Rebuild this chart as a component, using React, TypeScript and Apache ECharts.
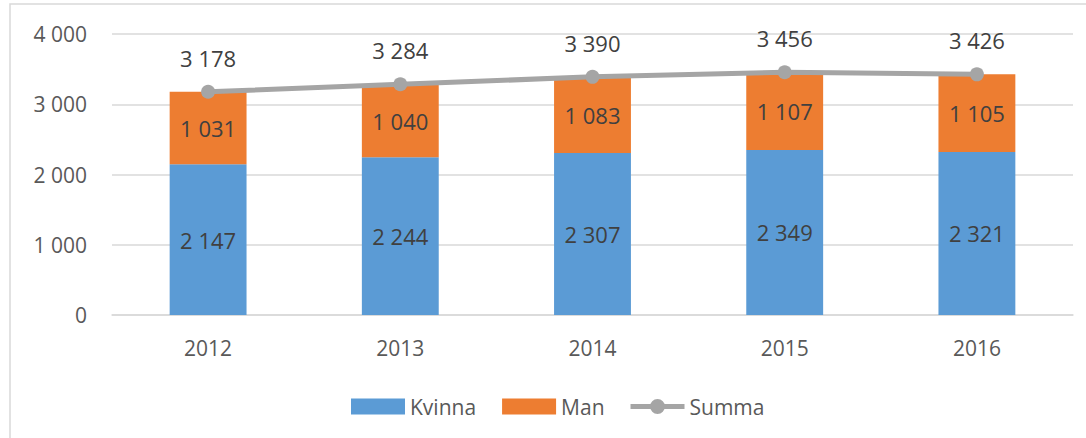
import React, { useEffect, useRef } from "react";
import * as echarts from "echarts";

const years = ["2012", "2013", "2014", "2015", "2016"];
const kvinna = [2147, 2244, 2307, 2349, 2321];
const man = [1031, 1040, 1083, 1107, 1105];
const summa = [3178, 3284, 3390, 3456, 3426];

const fmt = (v: number) => String(v).replace(/\B(?=(\d{3})+(?!\d))/g, " ");
const FONT = "'Open Sans', 'Noto Sans', sans-serif";
const LINE_ICON =
  "path://M0,5.5 H21 V10.5 H0 Z M33,5.5 H54 V10.5 H33 Z M19.5,8 A7.5,7.5 0 1,1 34.5,8 A7.5,7.5 0 1,1 19.5,8 Z";

export default function App() {
  const ref = useRef<HTMLDivElement>(null);
  useEffect(() => {
    document.body.style.margin = "0";
    const chart = echarts.init(ref.current!, null, { renderer: "svg" });
    chart.setOption({
      animation: false,
      backgroundColor: "#ffffff",
      textStyle: { fontFamily: FONT },
      graphic: [
        {
          type: "rect",
          shape: { x: 10, y: 4, width: 1100, height: 460 },
          style: { fill: "none", stroke: "#d9d9d9", lineWidth: 1.5 },
          silent: true,
        },
      ],
      grid: { left: 112, right: 13, top: 34, bottom: 123, containLabel: false },
      xAxis: {
        type: "category",
        data: years,
        axisLine: { lineStyle: { color: "#d9d9d9", width: 1.5 } },
        axisTick: { show: false },
        axisLabel: { color: "#595959", fontSize: 21, margin: 22, fontFamily: FONT },
      },
      yAxis: {
        type: "value",
        min: 0,
        max: 4000,
        interval: 1000,
        axisLine: { show: false },
        axisTick: { show: false },
        splitLine: { lineStyle: { color: "#d9d9d9", width: 1.5 } },
        axisLabel: {
          color: "#595959",
          fontSize: 21,
          margin: 25,
          fontFamily: FONT,
          formatter: (v: number) => fmt(v),
        },
      },
      legend: {
        bottom: 16,
        left: 346,
        itemGap: 26,
        itemWidth: 54,
        itemHeight: 16,
        textStyle: { color: "#595959", fontSize: 21, fontFamily: FONT },
        data: [
          { name: "Kvinna", icon: "rect" },
          { name: "Man", icon: "rect" },
          { name: "Summa", icon: LINE_ICON, itemStyle: { color: "#a5a5a5" } },
        ],
      },
      series: [
        {
          name: "Kvinna",
          type: "bar",
          stack: "s",
          data: kvinna,
          barWidth: "40%",
          itemStyle: { color: "#5b9bd5" },
          label: {
            show: true,
            position: "inside",
            color: "#404040",
            fontSize: 22,
            fontFamily: FONT,
            formatter: (p: any) => fmt(p.value),
          },
        },
        {
          name: "Man",
          type: "bar",
          stack: "s",
          data: man,
          barWidth: "40%",
          itemStyle: { color: "#ed7d31" },
          label: {
            show: true,
            position: "inside",
            color: "#404040",
            fontSize: 22,
            fontFamily: FONT,
            formatter: (p: any) => fmt(p.value),
          },
        },
        {
          name: "Summa",
          type: "line",
          data: summa,
          symbol: "circle",
          symbolSize: 14,
          lineStyle: { color: "#a5a5a5", width: 5 },
          itemStyle: { color: "#a5a5a5" },
          label: {
            show: true,
            position: "top",
            distance: 16,
            color: "#404040",
            fontSize: 22,
            fontFamily: FONT,
            formatter: (p: any) => fmt(p.value),
          },
        },
      ],
    });
    return () => chart.dispose();
  }, []);
  return <div ref={ref} style={{ width: 1086, height: 438 }} />;
}
